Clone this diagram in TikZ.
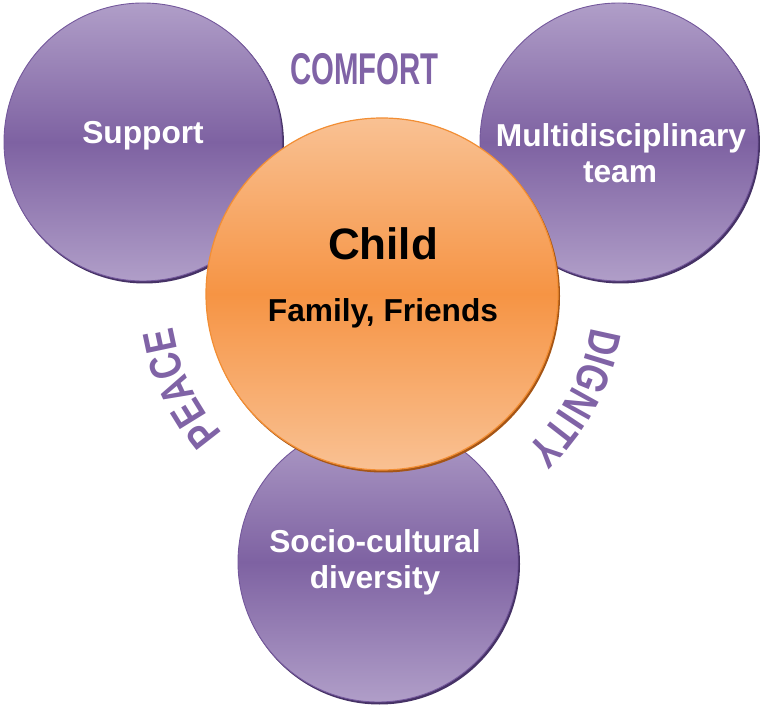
\documentclass[tikz,border=0pt]{standalone}
\usepackage{fontspec}
\setmainfont{Liberation Sans}
\newfontfamily\condfont[FakeStretch=0.66]{Liberation Sans}
\newfontfamily\arcfont[FakeStretch=0.78]{Liberation Sans}
\usetikzlibrary{decorations.text}
\definecolor{plight}{RGB}{176,158,200}
\definecolor{pdark}{RGB}{126,98,162}
\definecolor{pedge}{RGB}{116,88,156}
\definecolor{pshadow}{RGB}{70,50,102}
\definecolor{olight}{RGB}{249,193,147}
\definecolor{odark}{RGB}{246,148,68}
\definecolor{oedge}{RGB}{242,142,52}
\definecolor{oshadow}{RGB}{165,85,22}
\definecolor{wordcol}{RGB}{128,99,166}
\begin{document}
\begin{tikzpicture}[x=1pt,y=1pt,
  pcirc/.style={circle, draw=pedge, line width=0.9pt, top color=plight, bottom color=plight, middle color=pdark, inner sep=0pt, minimum size=278pt},
  ocirc/.style={circle, draw=oedge, line width=1.2pt, top color=olight, bottom color=olight, middle color=odark, inner sep=0pt, minimum size=352pt},
  wlabel/.style={anchor=base, text=white, font=\bfseries\fontsize{31.7}{36}\selectfont, align=center},
  blabel/.style={anchor=base, text=black, font=\bfseries\fontsize{31.7}{36}\selectfont},
  wordart/.style={anchor=base, text=wordcol, font=\condfont\bfseries\fontsize{44.5}{48}\selectfont}]
\useasboundingbox (0,0) rectangle (760,704);
% shadows
\fill[pshadow] (144.5,560) circle (139.5);
\fill[pshadow] (620.5,560) circle (139.5);
\fill[pshadow] (379.5,140) circle (140.5);
% purple circles
\node[pcirc] (support) at (143,562) {};
\node[pcirc] (multi) at (619,562) {};
\node[pcirc, minimum size=280pt] (socio) at (378,142) {};
% child circle
\fill[oshadow] (383.5,408) circle (176.5);
\node[ocirc] (child) at (382,410) {};
% texts
\node[wlabel] (tsupport) at (143,560) {Support};
\node[wlabel] (tmulti1) at (621,557) {Multidisciplinary};
\node[wlabel] (tmulti2) at (620,521) {team};
\node[wlabel] (tsocio1) at (375,151) {Socio-cultural};
\node[wlabel] (tsocio2) at (375,115) {diversity};
\node[anchor=base, font=\bfseries\fontsize{44}{48}\selectfont] (tchild) at (383,444) {Child};
\node[blabel] (tfamily) at (383,382) {Family, Friends};
\node[wordart] (comfort) at (364.5,619) {COMFORT};
\coordinate (cc) at (382,410);
\path[decorate, decoration={text along path, text color=wordcol, text align=center,
  text={|\arcfont\bfseries\fontsize{44.5}{48}\selectfont|PEACE}}]
  ([shift={(240:212)}]cc) arc[start angle=240, end angle=170, radius=212];
\path[decorate, decoration={text along path, text color=wordcol, text align=center,
  text={|\arcfont\bfseries\fontsize{44.5}{48}\selectfont|DIGNITY}}]
  ([shift={(7:212)}]cc) arc[start angle=7, end angle=-63, radius=212];
\end{tikzpicture}
\end{document}
